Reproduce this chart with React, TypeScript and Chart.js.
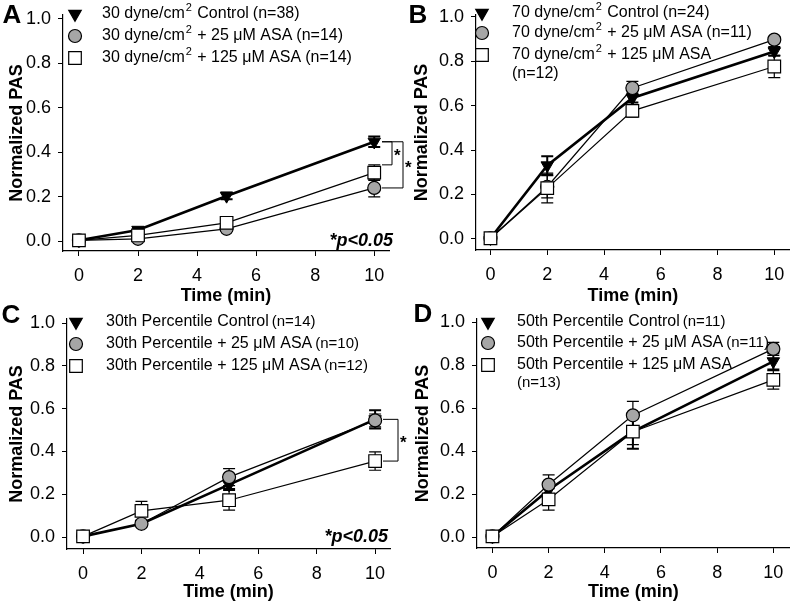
import React, { useEffect, useRef } from 'react';
import { Chart, registerables } from 'chart.js';

Chart.register(...registerables);

const FONT = '"Liberation Sans", Arial, Helvetica, sans-serif';

// ---------- shared axis data ----------
const times = [0, 2, 5, 10];
const xTickValues = [0, 2, 4, 6, 8, 10];
const yTickValues = [0, 0.2, 0.4, 0.6, 0.8, 1.0];
const xTitle = 'Time (min)';
const yTitle = 'Normalized PAS';
const pText = '*p<0.05';

// ---------- Panel A ----------
const aLabels = ['30 dyne/cm² Control', '30 dyne/cm² + 25 μM ASA', '30 dyne/cm² + 125 μM ASA'];
const aN = ['(n=38)', '(n=14)', '(n=14)'];
const aControl = [0.003, 0.05, 0.203, 0.447];
const aControlErr = [0.004, 0.01, 0.015, 0.024];
const a25 = [0.003, 0.01, 0.055, 0.239];
const a25Err = [0.004, 0.008, 0.012, 0.04];
const a125 = [0.003, 0.025, 0.082, 0.308];
const a125Err = [0.004, 0.01, 0.012, 0.035];

// ---------- Panel B ----------
const bLabels = ['70 dyne/cm² Control', '70 dyne/cm² + 25 μM ASA', '70 dyne/cm² + 125 μM ASA'];
const bN = ['(n=24)', '(n=11)', '(n=12)'];
const bControl = [0.003, 0.331, 0.635, 0.845];
const bControlErr = [0.004, 0.042, 0.02, 0.02];
const b25 = [0.003, 0.235, 0.68, 0.898];
const b25Err = [0.004, 0.05, 0.03, 0.015];
const b125 = [0.003, 0.229, 0.577, 0.777];
const b125Err = [0.004, 0.067, 0.028, 0.05];

// ---------- Panel C ----------
const cLabels = ['30th Percentile Control', '30th Percentile + 25 μM ASA', '30th Percentile + 125 μM ASA'];
const cN = ['(n=14)', '(n=10)', '(n=12)'];
const cControl = [0.003, 0.062, 0.245, 0.55];
const cControlErr = [0.004, 0.012, 0.02, 0.043];
const c25 = [0.003, 0.062, 0.28, 0.545];
const c25Err = [0.004, 0.015, 0.04, 0.03];
const c125 = [0.003, 0.122, 0.172, 0.355];
const c125Err = [0.004, 0.045, 0.046, 0.043];

// ---------- Panel D ----------
const dLabels = ['50th Percentile Control', '50th Percentile + 25 μM ASA', '50th Percentile + 125 μM ASA'];
const dN = ['(n=11)', '(n=11)', '(n=13)'];
const dControl = [0.003, 0.219, 0.49, 0.817];
const dControlErr = [0.004, 0.02, 0.08, 0.038];
const d25 = [0.003, 0.244, 0.566, 0.875];
const d25Err = [0.004, 0.045, 0.065, 0.03];
const d125 = [0.003, 0.175, 0.49, 0.731];
const d125Err = [0.004, 0.05, 0.06, 0.043];

type Series = { vals: number[]; errs: number[] };

function drawMarker(ctx: CanvasRenderingContext2D, style: string, x: number, y: number) {
  ctx.save();
  ctx.lineWidth = 1.2;
  ctx.strokeStyle = '#000';
  ctx.beginPath();
  if (style === 'tri') {
    const r = 7.2;
    ctx.moveTo(x - r * 0.866, y - r / 2);
    ctx.lineTo(x + r * 0.866, y - r / 2);
    ctx.lineTo(x, y + r);
    ctx.closePath();
    ctx.fillStyle = '#000';
  } else if (style === 'circle') {
    ctx.arc(x, y, 6.5, 0, Math.PI * 2);
    ctx.fillStyle = '#a6a6a6';
  } else {
    ctx.rect(x - 6.3, y - 6.3, 12.6, 12.6);
    ctx.fillStyle = '#fff';
  }
  ctx.fill();
  ctx.stroke();
  ctx.restore();
}

// draws text with "²" rendered as a raised small "2"; returns end x
function drawRich(ctx: CanvasRenderingContext2D, text: string, x: number, y: number, size: number) {
  const parts = text.split('²');
  let cx = x;
  parts.forEach((part, i) => {
    ctx.font = `${size}px ${FONT}`;
    ctx.fillText(part, cx, y);
    cx += ctx.measureText(part).width;
    if (i < parts.length - 1) {
      ctx.font = `${Math.round(size * 0.68)}px ${FONT}`;
      cx += 1;
      ctx.fillText('2', cx, y - size * 0.38);
      cx += ctx.measureText('2').width + 1;
    }
  });
  return cx;
}

const errorBarPlugin = {
  id: 'errorBars',
  beforeDatasetsDraw(chart: any) {
    const { ctx, scales } = chart;
    const xs = scales.x;
    const ys = scales.y;
    const sets = [...chart.data.datasets].sort((a: any, b: any) => b.order - a.order);
    sets.forEach((ds: any) => {
      if (!ds.errs) return;
      ctx.save();
      ctx.strokeStyle = '#000';
      ctx.lineWidth = ds.errWidth;
      ds.data.forEach((p: any, i: number) => {
        const e = ds.errs[i];
        if (!e) return;
        const px = xs.getPixelForValue(p.x);
        const top = ys.getPixelForValue(p.y + e);
        const bot = ys.getPixelForValue(p.y - e);
        const cw = 6;
        ctx.beginPath();
        ctx.moveTo(px, top);
        ctx.lineTo(px, bot);
        ctx.moveTo(px - cw, top);
        ctx.lineTo(px + cw, top);
        ctx.moveTo(px - cw, bot);
        ctx.lineTo(px + cw, bot);
        ctx.stroke();
      });
      ctx.restore();
    });
  },
};

function makeDecor(p: any) {
  return {
    id: 'decor' + p.letter,
    afterDraw(chart: any) {
      const ctx: CanvasRenderingContext2D = chart.ctx;
      const ys = chart.scales.y;
      ctx.save();
      ctx.fillStyle = '#000';
      // panel letter
      ctx.font = `bold 26px ${FONT}`;
      ctx.textAlign = 'center';
      ctx.textBaseline = 'middle';
      ctx.fillText(p.letter, p.letterPos[0], p.letterPos[1]);
      // legend
      ctx.textAlign = 'left';
      p.legend.forEach((item: any, i: number) => {
        const ry = p.legendRows[i];
        drawMarker(ctx, item.style, p.markerX, ry);
        ctx.fillStyle = '#000';
        const end = drawRich(ctx, item.label, p.textX, ry, p.textSize);
        ctx.font = `${p.nSize}px ${FONT}`;
        if (item.nNewLine) {
          ctx.fillText(item.n, p.textX, p.extraRow);
        } else {
          ctx.fillText(item.n, end + p.nGap, ry);
        }
      });
      // p-value note
      if (p.pNote) {
        ctx.font = `italic bold 18px ${FONT}`;
        ctx.textAlign = 'right';
        ctx.textBaseline = 'middle';
        ctx.fillText(pText, p.pNote.x, ys.getPixelForValue(0));
      }
      // significance brackets
      (p.brackets || []).forEach((b: any) => {
        const yt = ys.getPixelForValue(b.top);
        const yb = ys.getPixelForValue(b.bottom);
        ctx.strokeStyle = '#000';
        ctx.lineWidth = 1;
        ctx.beginPath();
        ctx.moveTo(b.x0, yt);
        ctx.lineTo(b.x1, yt);
        ctx.lineTo(b.x1, yb);
        ctx.lineTo(b.x0, yb);
        ctx.stroke();
        ctx.font = `bold 17px ${FONT}`;
        ctx.textAlign = 'left';
        ctx.textBaseline = 'middle';
        ctx.fillText('*', b.x1 + 2, (yt + yb) / 2 + 3);
      });
      ctx.restore();
    },
  };
}

function buildDatasets(labels: string[], ctrl: Series, s25: Series, s125: Series) {
  const pts = (v: number[]) => times.map((t, i) => ({ x: t, y: v[i] }));
  return [
    {
      label: labels[0],
      data: pts(ctrl.vals),
      errs: ctrl.errs,
      errWidth: 2,
      borderColor: '#000',
      borderWidth: 2.6,
      pointStyle: 'triangle',
      rotation: 180,
      pointRadius: 7.2,
      pointBackgroundColor: '#000',
      pointBorderColor: '#000',
      pointBorderWidth: 1,
      order: 3,
    },
    {
      label: labels[1],
      data: pts(s25.vals),
      errs: s25.errs,
      errWidth: 1.2,
      borderColor: '#000',
      borderWidth: 1.2,
      pointStyle: 'circle',
      pointRadius: 6.5,
      pointBackgroundColor: '#a6a6a6',
      pointBorderColor: '#000',
      pointBorderWidth: 1.2,
      order: 2,
    },
    {
      label: labels[2],
      data: pts(s125.vals),
      errs: s125.errs,
      errWidth: 1.2,
      borderColor: '#000',
      borderWidth: 1.2,
      pointStyle: 'rect',
      pointRadius: 8.9,
      pointBackgroundColor: '#fff',
      pointBorderColor: '#000',
      pointBorderWidth: 1.2,
      order: 1,
    },
  ];
}

const panels = [
  {
    letter: 'A',
    left: 0, top: 0, w: 420, h: 310,
    area: { l: 63, r: 389, t: 15, b: 251 },
    x: { min: -0.54, max: 10.5 },
    y: { min: -0.045, max: 1.018 },
    yTitlePad: 6, xTitlePad: 3,
    letterPos: [12, 16],
    markerX: 75, textX: 102, legendRows: [14, 36, 58], extraRow: 0, textSize: 16, nSize: 16, nGap: 4,
    datasets: buildDatasets(aLabels, { vals: aControl, errs: aControlErr }, { vals: a25, errs: a25Err }, { vals: a125, errs: a125Err }),
    legend: [
      { style: 'tri', label: aLabels[0], n: aN[0] },
      { style: 'circle', label: aLabels[1], n: aN[1] },
      { style: 'square', label: aLabels[2], n: aN[2] },
    ],
    pNote: { x: 393 },
    brackets: [
      { top: aControl[3], bottom: a125[3] + a125Err[3], x0: 382, x1: 392 },
      { top: aControl[3], bottom: a25[3], x0: 382, x1: 403 },
    ],
  },
  {
    letter: 'B',
    left: 400, top: 0, w: 400, h: 310,
    area: { l: 76, r: 400, t: 15, b: 250 },
    x: { min: -0.51, max: 10.55 },
    y: { min: -0.05, max: 1.009 },
    yTitlePad: 11, xTitlePad: 3,
    letterPos: [18, 16],
    markerX: 82, textX: 112, legendRows: [13, 33, 55], extraRow: 74, textSize: 16, nSize: 16, nGap: 4,
    datasets: buildDatasets(bLabels, { vals: bControl, errs: bControlErr }, { vals: b25, errs: b25Err }, { vals: b125, errs: b125Err }),
    legend: [
      { style: 'tri', label: bLabels[0], n: bN[0] },
      { style: 'circle', label: bLabels[1], n: bN[1] },
      { style: 'square', label: bLabels[2], n: bN[2], nNewLine: true },
    ],
    pNote: null,
    brackets: [],
  },
  {
    letter: 'C',
    left: 0, top: 295, w: 420, h: 312,
    area: { l: 67, r: 390, t: 24, b: 254 },
    x: { min: -0.55, max: 10.51 },
    y: { min: -0.056, max: 1.019 },
    yTitlePad: 6, xTitlePad: 4,
    letterPos: [11, 21],
    markerX: 76, textX: 106, legendRows: [27, 49, 71], extraRow: 0, textSize: 16, nSize: 15, nGap: 3,
    datasets: buildDatasets(cLabels, { vals: cControl, errs: cControlErr }, { vals: c25, errs: c25Err }, { vals: c125, errs: c125Err }),
    legend: [
      { style: 'tri', label: cLabels[0], n: cN[0] },
      { style: 'circle', label: cLabels[1], n: cN[1] },
      { style: 'square', label: cLabels[2], n: cN[2] },
    ],
    pNote: { x: 388 },
    brackets: [{ top: cControl[3], bottom: c125[3], x0: 383, x1: 398 }],
  },
  {
    letter: 'D',
    left: 400, top: 295, w: 400, h: 312,
    area: { l: 77, r: 400, t: 24, b: 253 },
    x: { min: -0.55, max: 10.59 },
    y: { min: -0.051, max: 1.014 },
    yTitlePad: 12, xTitlePad: 4,
    letterPos: [23, 20],
    markerX: 88, textX: 117, legendRows: [27, 48, 70], extraRow: 88, textSize: 16, nSize: 15, nGap: 3,
    datasets: buildDatasets(dLabels, { vals: dControl, errs: dControlErr }, { vals: d25, errs: d25Err }, { vals: d125, errs: d125Err }),
    legend: [
      { style: 'tri', label: dLabels[0], n: dN[0] },
      { style: 'circle', label: dLabels[1], n: dN[1] },
      { style: 'square', label: dLabels[2], n: dN[2], nNewLine: true },
    ],
    pNote: null,
    brackets: [],
  },
];

function Panel({ p }: { p: any }) {
  const ref = useRef<HTMLCanvasElement>(null);
  useEffect(() => {
    if (!ref.current) return;
    const axisCommon = {
      type: 'linear',
      border: { display: true, color: '#000', width: 1.2 },
      grid: { display: true, drawOnChartArea: false, drawTicks: true, tickLength: 5, color: '#000', lineWidth: 1 },
    };
    const chart = new Chart(ref.current, {
      type: 'line',
      data: { datasets: p.datasets },
      plugins: [errorBarPlugin, makeDecor(p)],
      options: {
        responsive: false,
        animation: false,
        layout: { padding: { left: 0, right: p.w - p.area.r, top: p.area.t, bottom: 0 } },
        plugins: { legend: { display: false }, tooltip: { enabled: false } },
        elements: { line: { tension: 0 } },
        scales: {
          x: {
            ...axisCommon,
            position: 'bottom',
            min: p.x.min,
            max: p.x.max,
            afterBuildTicks: (s: any) => { s.ticks = xTickValues.map((v) => ({ value: v })); },
            afterFit: (s: any) => { s.height = p.h - p.area.b; s.paddingLeft = 0; s.paddingRight = 0; },
            ticks: { color: '#000', font: { family: FONT, size: 18 }, padding: 9, maxRotation: 0, autoSkip: false, callback: (v: any) => String(v) },
            title: { display: true, text: xTitle, color: '#000', font: { family: FONT, size: 18, weight: 'bold' }, padding: { top: 0, bottom: p.xTitlePad } },
          },
          y: {
            ...axisCommon,
            position: 'left',
            min: p.y.min,
            max: p.y.max,
            afterBuildTicks: (s: any) => { s.ticks = yTickValues.map((v) => ({ value: v })); },
            afterFit: (s: any) => { s.width = p.area.l; s.paddingTop = 0; s.paddingBottom = 0; },
            ticks: { color: '#000', font: { family: FONT, size: 18 }, padding: 7, autoSkip: false, callback: (v: any) => Number(v).toFixed(1) },
            title: { display: true, text: yTitle, color: '#000', font: { family: FONT, size: 18, weight: 'bold' }, padding: { top: p.yTitlePad, bottom: 0 } },
          },
        },
      },
    } as any);
    return () => chart.destroy();
  }, [p]);
  return (
    <canvas
      ref={ref}
      width={p.w}
      height={p.h}
      style={{ position: 'absolute', left: p.left, top: p.top, width: p.w, height: p.h, display: 'block' }}
    />
  );
}

export default function App() {
  return (
    <div style={{ position: 'absolute', left: 0, top: 0, width: 800, height: 607, background: '#fff', overflow: 'hidden' }}>
      {panels.map((p) => (
        <Panel key={p.letter} p={p} />
      ))}
    </div>
  );
}
